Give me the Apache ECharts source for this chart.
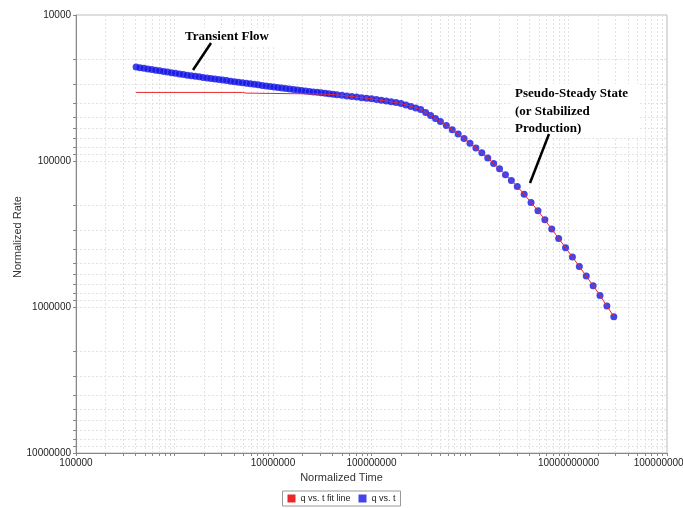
<!DOCTYPE html>
<html>
<head>
<meta charset="utf-8">
<script src="https://cdn.jsdelivr.net/npm/echarts@6/dist/echarts.min.js"></script>
<style>
  html, body { margin: 0; padding: 0; background: #fff; }
  #chart { width: 683px; height: 508px; }
</style>
</head>
<body>
<div id="chart"></div>
<script>
// Normalized time of each measured point
const timeValues = [
  4.074e5, 4.467e5, 4.898e5, 5.370e5, 5.888e5, 6.457e5, 7.079e5, 7.762e5, 8.511e5, 9.333e5,
  1.023e6, 1.122e6, 1.230e6, 1.349e6, 1.479e6, 1.622e6, 1.778e6, 1.950e6, 2.138e6, 2.344e6,
  2.570e6, 2.818e6, 3.090e6, 3.388e6, 3.715e6, 4.074e6, 4.467e6, 4.898e6, 5.370e6, 5.888e6,
  6.457e6, 7.079e6, 7.762e6, 8.511e6, 9.333e6, 1.023e7, 1.122e7, 1.230e7, 1.349e7, 1.479e7,
  1.622e7, 1.778e7, 1.950e7, 2.138e7, 2.344e7, 2.570e7, 2.818e7, 3.090e7, 3.388e7, 3.715e7,
  4.074e7, 4.467e7,
  5.012e7, 5.623e7, 6.310e7, 7.079e7, 7.943e7, 8.913e7, 1.000e8, 1.122e8, 1.259e8, 1.413e8,
  1.585e8, 1.778e8, 1.995e8, 2.239e8, 2.512e8, 2.818e8, 3.162e8, 3.548e8, 3.981e8, 4.467e8,
  5.012e8,
  5.754e8, 6.607e8, 7.586e8, 8.710e8, 1.000e9, 1.148e9, 1.318e9, 1.514e9, 1.738e9, 1.995e9,
  2.291e9, 2.630e9,
  3.020e9, 3.548e9, 4.169e9, 4.898e9, 5.754e9, 6.761e9, 7.943e9, 9.333e9, 1.096e10, 1.288e10,
  1.514e10, 1.778e10, 2.089e10, 2.455e10, 2.884e10
];

// Normalized rate of each measured point
const rateValues = [
  22740, 22970, 23190, 23420, 23650, 23890, 24120, 24360, 24600, 24840,
  25080, 25330, 25580, 25830, 26070, 26290, 26520, 26750, 26980, 27210,
  27430, 27670, 27900, 28140, 28380, 28620, 28860, 29110, 29360, 29600,
  29850, 30100, 30350, 30590, 30840, 31100, 31360, 31620, 31890, 32150,
  32400, 32650, 32890, 33130, 33380, 33630, 33880, 34140, 34390, 34650,
  34910, 35180,
  35500, 35830, 36150, 36490, 36810, 37150, 37520, 37960, 38410, 38860,
  39320, 39770, 40350, 41310, 42280, 43270, 44460, 46580, 48810, 51150,
  53630,
  57240, 61110, 65250, 70080, 75500, 81320, 87850, 95540, 103900, 113000,
  124000, 136100,
  149500, 168900, 192400, 219300, 252800, 292800, 339200, 392900, 455200, 527200,
  613800, 714800, 832600, 984500, 1164000
];

// Early part of the fitted curve; later it follows the measured points
const fitTimeValues = [4.074e5, 4.898e6, 5.370e6, 3.388e7];
const fitRateValues = [33900, 33900, 34280, 34810];
const fitJoinTime = 5e7;

// Axis ranges and labelled ticks
const xRange = [1e5, 1e11];
const yRange = [1e4, 1e7];
const xTickLabels = [1e5, 1e7, 1e8, 1e10, 1e11];
const yTickLabels = [1e4, 1e5, 1e6, 1e7];

const seriesNames = ['q vs. t fit line', 'q vs. t'];

// 1..9 x 10^p grid positions for a log axis
function logGridValues(lo, hi) {
  const out = [];
  const pLo = Math.round(Math.log10(lo)), pHi = Math.round(Math.log10(hi));
  for (let p = pLo; p < pHi; p++) {
    for (let m = 1; m <= 9; m++) out.push(m * Math.pow(10, p));
  }
  out.push(Math.pow(10, pHi));
  return out;
}

const measured = timeValues.map((t, i) => [t, rateValues[i]]);
const fitData = fitTimeValues.map((t, i) => [t, fitRateValues[i]])
  .concat(measured.filter(p => p[0] >= fitJoinTime));

const gridLine = { show: true, lineStyle: { color: '#e2e2e2', type: [2, 2], width: 1 } };
const labelText = { color: '#222', fontSize: 10, fontFamily: 'Liberation Sans, Arial, sans-serif' };
const fmt = v => Math.round(v).toString();

const chart = echarts.init(document.getElementById('chart'), null, { renderer: 'canvas' });
chart.setOption({
  animation: false,
  backgroundColor: '#fff',
  grid: {
    left: 76, right: 16, top: 15, bottom: 55,
    containLabel: false, outerBoundsMode: 'none',
    show: true, borderColor: '#b8b8b8', borderWidth: 1, backgroundColor: '#fff'
  },
  xAxis: {
    type: 'log', logBase: 10, min: xRange[0], max: xRange[1],
    axisLine: { show: true, onZero: false, lineStyle: { color: '#888' } },
    axisTick: { show: true, length: 3, lineStyle: { color: '#888' }, customValues: logGridValues(xRange[0], xRange[1]) },
    axisLabel: Object.assign({ margin: 5, customValues: xTickLabels, formatter: fmt, showMaxLabel: true, hideOverlap: false }, labelText),
    splitLine: gridLine
  },
  yAxis: {
    type: 'log', logBase: 10, min: yRange[0], max: yRange[1], inverse: true,
    axisLine: { show: true, onZero: false, lineStyle: { color: '#888' } },
    axisTick: { show: true, length: 3, lineStyle: { color: '#888' }, customValues: logGridValues(yRange[0], yRange[1]) },
    axisLabel: Object.assign({ margin: 5, customValues: yTickLabels, formatter: fmt }, labelText),
    splitLine: gridLine
  },
  legend: {
    data: seriesNames,
    left: 'center',
    bottom: 2,
    icon: 'rect',
    itemWidth: 8, itemHeight: 8, itemGap: 8,
    padding: [3, 5],
    borderColor: '#999', borderWidth: 1,
    textStyle: { fontSize: 9, color: '#222', fontFamily: 'Liberation Sans, Arial, sans-serif' }
  },
  series: [
    {
      name: seriesNames[1],
      type: 'scatter',
      data: measured,
      symbol: 'circle',
      symbolSize: 7,
      itemStyle: { color: '#1414e6' },
      z: 2
    },
    {
      name: seriesNames[0],
      type: 'line',
      data: fitData,
      showSymbol: false,
      symbol: 'none',
      itemStyle: { color: '#e8282a' },
      lineStyle: { color: '#e8282a', width: 1 },
      z: 3
    }
  ],
  graphic: [
    { type: 'text', left: 'center', top: 472, style: { text: 'Normalized Time', fontSize: 11, fill: '#333', fontFamily: 'Liberation Sans, Arial, sans-serif' } },
    { type: 'text', x: 18, y: 237, rotation: Math.PI / 2, style: { text: 'Normalized Rate', fontSize: 11, fill: '#333', align: 'center', verticalAlign: 'middle', fontFamily: 'Liberation Sans, Arial, sans-serif' } },
    { type: 'rect', shape: { x: 182, y: 28, width: 92, height: 17 }, style: { fill: '#fff' }, z: 10 },
    { type: 'text', x: 185, y: 37, z: 11, style: { text: 'Transient Flow', font: 'bold 13px "Liberation Serif", "Times New Roman", serif', fill: '#000', verticalAlign: 'middle' } },
    { type: 'line', z: 11, shape: { x1: 211, y1: 43, x2: 193, y2: 70 }, style: { stroke: '#000', lineWidth: 2.5 } },
    { type: 'rect', shape: { x: 511, y: 84, width: 128, height: 53 }, style: { fill: '#fff' }, z: 10 },
    { type: 'text', x: 515, y: 85, z: 11, style: { text: 'Pseudo-Steady State\n(or Stabilized\nProduction)', font: 'bold 13px "Liberation Serif", "Times New Roman", serif', lineHeight: 17.5, fill: '#000' } },
    { type: 'line', z: 11, shape: { x1: 549, y1: 134, x2: 530, y2: 183 }, style: { stroke: '#000', lineWidth: 2.5 } }
  ]
});
</script>
</body>
</html>
